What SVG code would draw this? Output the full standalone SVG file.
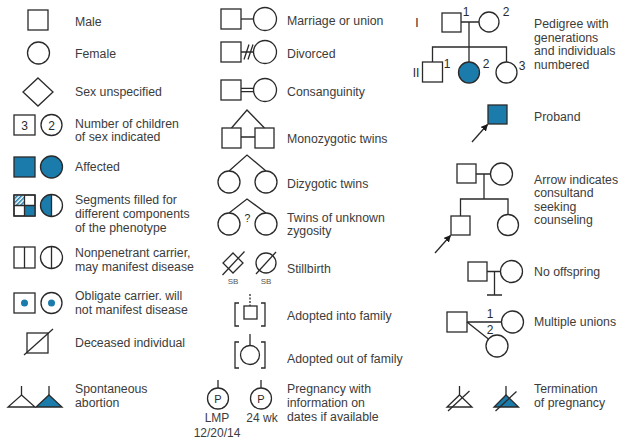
<svg xmlns="http://www.w3.org/2000/svg" width="620" height="448" viewBox="0 0 620 448">
<defs>
<style>
.s{fill:#fff;stroke:#2a2a2a;stroke-width:1.3}
.f{fill:#1b7bab;stroke:#2a2a2a;stroke-width:1.3}
.n{fill:none;stroke:#2a2a2a;stroke-width:1.3}
.c{fill:none;stroke:#2a2a2a;stroke-width:1.3}
.t{font-family:"Liberation Sans",Arial,sans-serif;font-size:12.3px;fill:#3c3c3c}
.m{font-family:"Liberation Sans",Arial,sans-serif;font-size:12px;fill:#2a2a2a;text-anchor:middle}
.sb{font-family:"Liberation Sans",Arial,sans-serif;font-size:8px;fill:#555;text-anchor:middle}
.dot{fill:#1b7bab;stroke:none}
</style>
<pattern id="hatch" width="3" height="3" patternUnits="userSpaceOnUse" patternTransform="rotate(45)">
<rect width="3" height="3" fill="#fff"/>
<rect width="1.5" height="3" fill="#1b7bab"/>
</pattern>
<marker id="arr" viewBox="0 0 10 10" refX="9" refY="5" markerWidth="7" markerHeight="7" orient="auto" markerUnits="userSpaceOnUse">
<path d="M0,0 L10,5 L0,10 z" fill="#1a1a1a"/>
</marker>
</defs>
<rect width="620" height="448" fill="#fff"/>

<!-- Column 1 -->
<g id="male"><rect class="s" x="28" y="10" width="20" height="20"/><text class="t" x="75" y="26">Male</text></g>
<g id="female"><circle class="s" cx="38.5" cy="53" r="11"/><text class="t" x="75" y="58">Female</text></g>
<g id="unspecified"><polygon class="s" points="38,78 53,92 38,106 23,92"/><text class="t" x="75" y="96">Sex unspecified</text></g>
<g id="number"><rect class="s" x="14" y="115" width="21" height="20"/><text class="m" x="24.5" y="129.5">3</text><circle class="s" cx="51.5" cy="125" r="10.5"/><text class="m" x="51.5" y="129.5">2</text><text class="t" x="75" y="127.5">Number of children</text><text class="t" x="75" y="140.5">of sex indicated</text></g>
<g id="affected"><rect class="f" x="14" y="157" width="21" height="20"/><circle class="f" cx="51.5" cy="167" r="11"/><text class="t" x="75" y="171">Affected</text></g>
<g id="segments"><rect class="s" x="14" y="195" width="21" height="21"/><rect x="14.6" y="195.6" width="9.9" height="9.9" fill="url(#hatch)"/><rect x="24.5" y="205.5" width="10.5" height="10.5" fill="#1b7bab"/><path class="n" d="M24.5,195 V216 M14,205.5 H35"/><rect class="n" x="14" y="195" width="21" height="21"/><path d="M51.5,194.5 A11,11 0 0 0 51.5,216.5 Z" fill="#1b7bab"/><circle class="n" cx="51.5" cy="205.5" r="11"/><path class="n" d="M51.5,194.5 V216.5"/><text class="t" x="75" y="204">Segments filled for</text><text class="t" x="75" y="218">different components</text><text class="t" x="75" y="232">of the phenotype</text></g>
<g id="nonpenetrant"><rect class="s" x="14" y="247" width="21" height="21"/><path class="n" d="M24.5,247 V268"/><circle class="s" cx="51.5" cy="257.5" r="11"/><path class="n" d="M51.5,246.5 V268.5"/><text class="t" x="75" y="257">Nonpenetrant carrier,</text><text class="t" x="75" y="271">may manifest disease</text></g>
<g id="obligate"><rect class="s" x="14" y="293" width="21" height="20"/><circle class="dot" cx="24.5" cy="303" r="3.5"/><circle class="s" cx="51.5" cy="303" r="10.5"/><circle class="dot" cx="51.5" cy="303" r="3.5"/><text class="t" x="75" y="300">Obligate carrier. will</text><text class="t" x="75" y="313.5">not manifest disease</text></g>
<g id="deceased"><rect class="s" x="27" y="333" width="21" height="20"/><path class="n" d="M24,355 L53,329"/><text class="t" x="75" y="346.5">Deceased individual</text></g>
<g id="spontaneous"><path class="n" d="M21.5,386 V395"/><polygon class="s" points="21.5,395 35,407 8,407"/><path class="n" d="M49,386 V395"/><polygon class="f" points="49,395 62,407 36,407"/><text class="t" x="75" y="393">Spontaneous</text><text class="t" x="75" y="406.5">abortion</text></g>

<!-- Column 2 -->
<g id="marriage"><rect class="s" x="221" y="9" width="20" height="20"/><circle class="s" cx="265" cy="19" r="11.5"/><text class="t" x="287" y="25">Marriage or union</text></g>
<g id="divorced"><rect class="s" x="221" y="42" width="20" height="20"/><circle class="s" cx="265" cy="52" r="11.5"/><text class="t" x="287" y="58">Divorced</text></g>
<g id="consanguinity"><rect class="s" x="221" y="80" width="20" height="20"/><circle class="s" cx="265" cy="90" r="11.5"/><text class="t" x="287" y="95.5">Consanguinity</text></g>
<g id="monozygotic"><rect class="s" x="222" y="128" width="19" height="20"/><rect class="s" x="255" y="128" width="19" height="20"/><text class="t" x="287" y="143">Monozygotic twins</text></g>
<g id="dizygotic"><circle class="s" cx="229" cy="182" r="11"/><circle class="s" cx="266" cy="182" r="11"/><text class="t" x="287" y="187.5">Dizygotic twins</text></g>
<g id="unknown"><circle class="s" cx="229" cy="224" r="11"/><circle class="s" cx="266" cy="224" r="11"/><text class="m" x="247.5" y="222" style="font-size:10.5px">?</text><text class="t" x="287" y="221.5">Twins of unknown</text><text class="t" x="287" y="235">zygosity</text></g>
<g id="stillbirth"><polygon class="s" points="233,253 243,263 233,273 223,263"/><path class="n" d="M222.5,275 L244.5,251.5"/><circle class="s" cx="266" cy="263" r="10"/><path class="n" d="M256,274 L276,252"/><text class="sb" x="233" y="284">SB</text><text class="sb" x="266" y="284">SB</text><text class="t" x="287" y="273">Stillbirth</text></g>
<g id="adopted-in"><path class="n" d="M250,294 V306" stroke-dasharray="2,1.5"/><rect class="s" x="244" y="306" width="13" height="13"/><path class="n" d="M239,303 H235 V326 H239 M261,303 H265 V326 H261"/><text class="t" x="287" y="320">Adopted into family</text></g>
<g id="adopted-out"><path class="n" d="M250,334 V345"/><circle class="s" cx="250" cy="355" r="9.5"/><path class="n" d="M239,342 H235 V368 H239 M261,342 H265 V368 H261"/><text class="t" x="287" y="363">Adopted out of family</text></g>
<g id="pregnancy"><path class="n" d="M218,380 V388 M261,380 V388"/><circle class="s" cx="218" cy="398.5" r="10.5"/><text class="m" x="218" y="402.5" style="font-size:11px">P</text><circle class="s" cx="261" cy="398.5" r="10.5"/><text class="m" x="261" y="402.5" style="font-size:11px">P</text><text class="m" x="217" y="421.5" style="fill:#3c3c3c">LMP</text><text class="m" x="217" y="437" style="fill:#3c3c3c">12/20/14</text><text class="m" x="262" y="421.5" style="fill:#3c3c3c">24 wk</text><text class="t" x="287" y="393">Pregnancy with</text><text class="t" x="287" y="407">information on</text><text class="t" x="287" y="421">dates if available</text></g>

<!-- Column 3 -->
<g id="pedigree"><text class="m" x="417" y="27">I</text><rect class="s" x="442" y="13" width="19" height="19"/><text class="m" x="466" y="16">1</text><circle class="s" cx="489" cy="22" r="10"/><text class="m" x="506" y="16">2</text><text class="m" x="416" y="77">II</text><rect class="s" x="422.5" y="62" width="20" height="20"/><text class="m" x="447" y="68">1</text><circle class="f" cx="469" cy="72.5" r="10.5"/><text class="m" x="486" y="68">2</text><circle class="s" cx="506.5" cy="72.5" r="10.5"/><text class="m" x="522" y="70">3</text><text class="t" x="534" y="28">Pedigree with</text><text class="t" x="534" y="41.5">generations</text><text class="t" x="534" y="55">and individuals</text><text class="t" x="534" y="68.5">numbered</text></g>
<g id="proband"><rect class="f" x="488" y="105" width="19" height="19"/><text class="t" x="534" y="120.5">Proband</text></g>
<g id="consultand"><rect class="s" x="457" y="164" width="19" height="19"/><circle class="s" cx="501.5" cy="174" r="11"/><rect class="s" x="451" y="216" width="19" height="19"/><circle class="s" cx="508" cy="225" r="10.5"/><text class="t" x="534" y="183.5">Arrow indicates</text><text class="t" x="534" y="197">consultand</text><text class="t" x="534" y="210.5">seeking</text><text class="t" x="534" y="224">counseling</text></g>
<g id="no-offspring"><rect class="s" x="468" y="262" width="19" height="19"/><circle class="s" cx="511.5" cy="271.5" r="11"/><text class="t" x="534" y="276">No offspring</text></g>
<g id="multiple-unions"><rect class="s" x="447" y="312" width="20" height="20"/><circle class="s" cx="512.5" cy="322" r="11"/><circle class="s" cx="497" cy="346" r="11"/><text class="m" x="490" y="318">1</text><text class="m" x="490" y="333.5">2</text><text class="t" x="534" y="326">Multiple unions</text></g>
<g id="termination"><path class="n" d="M459.5,386 V395"/><polygon class="s" points="459.5,395 472,407 447,407"/><path class="n" d="M448,411 L469.5,391"/><path class="n" d="M506,386 V395"/><polygon class="f" points="506,395 518.5,407 494,407"/><path class="n" d="M495.5,411 L516.5,391.5"/><text class="t" x="534" y="393">Termination</text><text class="t" x="534" y="407">of pregnancy</text></g>

<g id="connectors">
<path class="c" d="M241,19 H253.5"/>
<path class="c" d="M241,52 H253.5 M244,59.5 L249,44.5 M248,59.5 L253,44.5"/>
<path class="c" d="M241,88.3 H253.5 M241,91.7 H253.5"/>
<path class="c" d="M231.5,128 L247,110 L264.5,128 M241,137 H255"/>
<path class="c" d="M229,171 L247,155 L266,171"/>
<path class="c" d="M229,213 L247,199 L266,213"/>
<path class="c" d="M461,22 H479 M469,22 V47 M432.5,62 V47 H506.5 V62 M469,47 V62"/>
<path class="c" d="M472,142 L487.5,124.5" marker-end="url(#arr)"/>
<path class="c" d="M476,174 H490.5 M484,174 V199 M460.5,216 V199 H508 V214.5"/>
<path class="c" d="M435,253 L450.5,235.5" marker-end="url(#arr)"/>
<path class="c" d="M487,271.5 H500.5 M494.5,271.5 V295 M487,295 H502"/>
<path class="c" d="M467,322 H501.5 M467,322 L488.4,339.1"/>
</g>
</svg>
